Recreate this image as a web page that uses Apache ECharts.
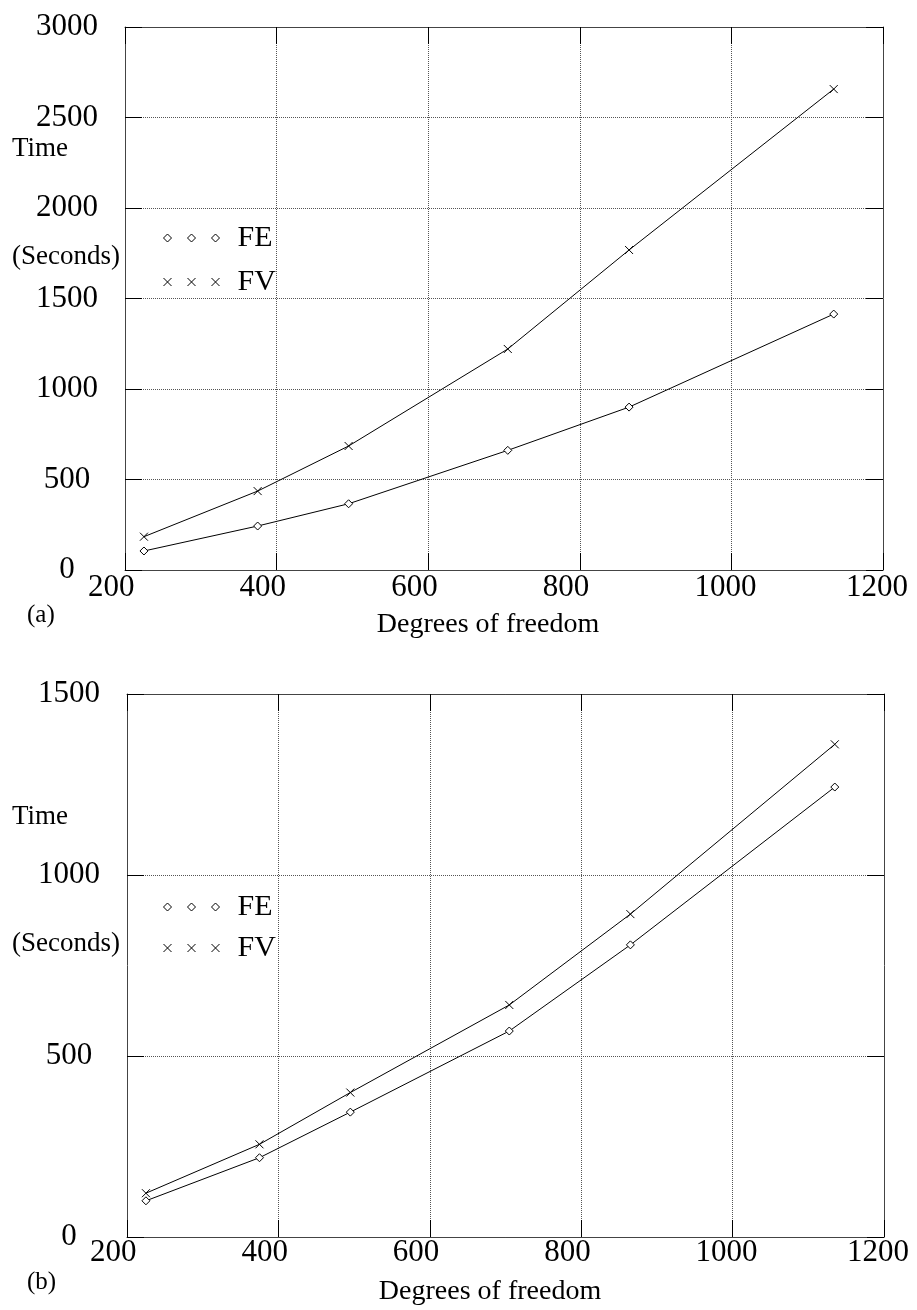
<!DOCTYPE html>
<html>
<head>
<meta charset="utf-8">
<script src="https://cdn.jsdelivr.net/npm/echarts@6/dist/echarts.min.js"></script>
<style>
  html, body { margin: 0; padding: 0; background: #fff; }
  #chart { width: 917px; height: 1310px; }
</style>
</head>
<body>
<div id="chart"></div>
<script>
/* timing of FE vs FV, two panels */

var dof = [225, 375, 495, 705, 865, 1135];
var feA = [105, 243, 366, 661, 900, 1414];
var fvA = [184, 436, 685, 1221, 1768, 2657];
var feB = [100, 219, 345, 569, 807, 1243];
var fvB = [121, 256, 399, 641, 892, 1361];
var xTicks = [200, 1200, 200];   // min, max, step
var yTicksA = [0, 3000, 500];
var yTicksB = [0, 1500, 500];

var FONT = '"Liberation Serif", "Times New Roman", serif';
var diamond = 'path://M5 0L10 5L5 10L0 5Z';
var cross = 'path://M0 0L10 10M10 0L0 10';
var diamonds3 = 'path://M0 4L4 0L8 4L4 8Z M24 4L28 0L32 4L28 8Z M48 4L52 0L56 4L52 8Z';
var crosses3 = 'path://M0 0L8 8M8 0L0 8 M24 0L32 8M32 0L24 8 M48 0L56 8M56 0L48 8';

function pairs(xs, ys) {
	var re = [];
	for (var i = 0; i < xs.length; i++) re.push([xs[i], ys[i]]);
	return re;
}

function mainX(grid) {
	return {
		type: 'value', gridIndex: grid, position: 'bottom',
		min: xTicks[0], max: xTicks[1], interval: xTicks[2],
		axisLine: { show: true, lineStyle: { color: '#444', width: 1 } },
		axisTick: { show: true, inside: true, length: 17, lineStyle: { color: '#000', width: 1 } },
		splitLine: { show: true, lineStyle: { color: '#555', type: 'dotted', width: 1 } },
		axisLabel: {
			show: true, align: 'center', margin: grid == 0 ? 2 : 0,
			color: '#000', fontFamily: FONT, fontSize: 31,
			formatter: function (v) { return '{l|' + v + '}'; },
			rich: { l: { width: 74, align: 'left', fontFamily: FONT, fontSize: 31, color: '#000' } }
		}
	};
}

function mainY(grid, t) {
	return {
		type: 'value', gridIndex: grid, position: 'left',
		min: t[0], max: t[1], interval: t[2],
		axisLine: { show: true, lineStyle: { color: '#444', width: 1 } },
		axisTick: { show: true, inside: true, length: 17, lineStyle: { color: '#000', width: 1 } },
		splitLine: { show: true, lineStyle: { color: '#555', type: 'dotted', width: 1 } },
		axisLabel: {
			show: true, align: 'center', margin: 58, padding: [0, 0, 12, 0],
			color: '#000', fontFamily: FONT, fontSize: 31,
			formatter: function (v) { return String(v); }
		}
	};
}

function frameX(grid) {
	return {
		type: 'value', gridIndex: grid, position: 'top',
		min: xTicks[0], max: xTicks[1], interval: xTicks[2],
		axisLine: { show: true, onZero: false, lineStyle: { color: '#444', width: 1 } },
		axisTick: { show: true, inside: true, length: 17, lineStyle: { color: '#000', width: 1 } },
		splitLine: { show: false }, axisLabel: { show: false }
	};
}

function frameY(grid, t) {
	return {
		type: 'value', gridIndex: grid, position: 'right',
		min: t[0], max: t[1], interval: t[2],
		axisLine: { show: true, onZero: false, lineStyle: { color: '#444', width: 1 } },
		axisTick: { show: true, inside: true, length: 17, lineStyle: { color: '#000', width: 1 } },
		splitLine: { show: false }, axisLabel: { show: false }
	};
}

function lineSeries(name, xi, yi, data, sym) {
	return {
		name: name, type: 'line', xAxisIndex: xi, yAxisIndex: yi,
		data: data, symbol: sym, symbolSize: 8, showSymbol: true,
		lineStyle: { color: '#000', width: 1 },
		itemStyle: { color: '#fff', borderColor: '#000', borderWidth: 1 },
		emphasis: { disabled: true }
	};
}

function legendAt(top, gap) {
	return {
		orient: 'vertical', left: 158, top: top, itemGap: gap,
		itemWidth: 56, itemHeight: 8, selectedMode: false,
		itemStyle: { color: 'transparent', borderColor: '#000', borderWidth: 1 },
		textStyle: { fontFamily: FONT, fontSize: 30, color: '#000', lineHeight: 30, padding: [0, 0, 0, 13] },
		data: [{ name: 'FE', icon: diamonds3 }, { name: 'FV', icon: crosses3 }]
	};
}

function label(text, x, y, size, align) {
	return {
		type: 'text', x: x, y: y, silent: true,
		style: { text: text, font: size + 'px ' + FONT, fill: '#000', align: align || 'left', verticalAlign: 'middle' }
	};
}

var myChart = echarts.init(document.getElementById('chart'), null, { renderer: 'canvas' });

var option = {
	animation: false,
	backgroundColor: '#fff',
	grid: [
		{ left: 125, top: 27, width: 758, height: 543 },
		{ left: 127, top: 694, width: 757, height: 543 }
	],
	xAxis: [mainX(0), mainX(1), frameX(0), frameX(1)],
	yAxis: [mainY(0, yTicksA), mainY(1, yTicksB), frameY(0, yTicksA), frameY(1, yTicksB)],
	legend: [legendAt(218, 14), legendAt(887, 11)],
	series: [
		lineSeries('FE', 0, 0, pairs(dof, feA), diamond),
		lineSeries('FV', 0, 0, pairs(dof, fvA), cross),
		lineSeries('FE', 1, 1, pairs(dof, feB), diamond),
		lineSeries('FV', 1, 1, pairs(dof, fvB), cross)
	],
	graphic: [
		label('Time', 12, 149, 27),
		label('(Seconds)', 12, 257, 27),
		label('(a)', 27, 615, 25),
		label('Degrees of freedom', 488, 625, 28, 'center'),
		label('Time', 12, 817, 27),
		label('(Seconds)', 12, 944, 27),
		label('(b)', 27, 1282, 25),
		label('Degrees of freedom', 490, 1292, 28, 'center')
	]
};

myChart.setOption(option);
</script>
</body>
</html>
